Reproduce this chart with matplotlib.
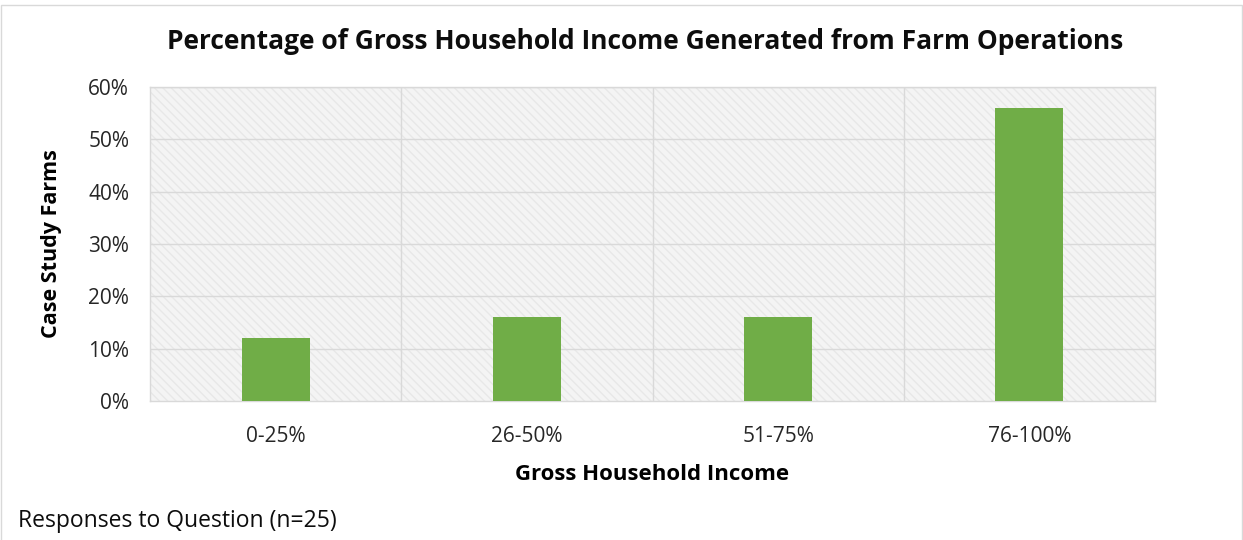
import matplotlib
matplotlib.use('Agg')
import matplotlib.pyplot as plt
import numpy as np

# data
categories = ['0-25%', '26-50%', '51-75%', '76-100%']
shares = [12, 16, 16, 56]  # percent of case study farms
y_ticks = [0, 10, 20, 30, 40, 50, 60]

plt.rcParams['font.family'] = ['Open Sans', 'DejaVu Sans']

fig = plt.figure(figsize=(12.43, 5.4), dpi=100)
ax = fig.add_axes([150 / 1243, 1 - 401 / 540, 1005 / 1243, 314 / 540])

x = np.arange(len(categories))
ax.set_xlim(-0.5, len(categories) - 0.5)
ax.set_ylim(0, 60)

# hatched light gray plot background
ax.set_facecolor('#f4f4f4')
bg = plt.Rectangle((-0.5, 0), len(categories), 60, facecolor='none',
                   edgecolor='#e8e8e8', hatch='\\\\\\\\', linewidth=0, zorder=0)
ax.add_patch(bg)

# grid: horizontal at ticks, vertical at category borders
for v in y_ticks[1:]:
    ax.axhline(v, color='#d9d9d9', linewidth=1, zorder=1)
for b in np.arange(0.5, len(categories) - 0.5):
    ax.axvline(b, color='#d9d9d9', linewidth=1, zorder=1)

ax.bar(x, shares, width=0.27, color='#70ad47', zorder=3)

for s in ax.spines.values():
    s.set_color('#d9d9d9')
    s.set_linewidth(1)

ax.set_xticks(x)
ax.set_xticklabels(categories, fontsize=15, color='#262626')
ax.set_yticks(y_ticks)
ax.set_yticklabels([f'{v}%' for v in y_ticks], fontsize=15, color='#262626')
ax.tick_params(axis='x', length=0, pad=18)
ax.tick_params(axis='y', length=0, pad=15)

ax.set_xlabel('Gross Household Income', fontsize=16, fontweight='bold', labelpad=12)
ax.set_ylabel('Case Study Farms', fontsize=15.5, fontweight='bold', labelpad=19)

fig.text(645 / 1243, 1 - 42 / 540, 'Percentage of Gross Household Income Generated from Farm Operations',
         ha='center', va='center', fontsize=19, fontweight='bold', color='#0d0d0d')
fig.text(18 / 1243, 1 - 521 / 540, 'Responses to Question (n=25)', ha='left', va='center',
         fontsize=16.5, color='#0d0d0d')

# thin frame around the whole picture
frame = plt.Rectangle((0.001, -0.01), 0.998, 1.0, transform=fig.transFigure, fill=False,
                      edgecolor='#d9d9d9', linewidth=1)
fig.patches.append(frame)

fig.savefig('out.png', dpi=100)
